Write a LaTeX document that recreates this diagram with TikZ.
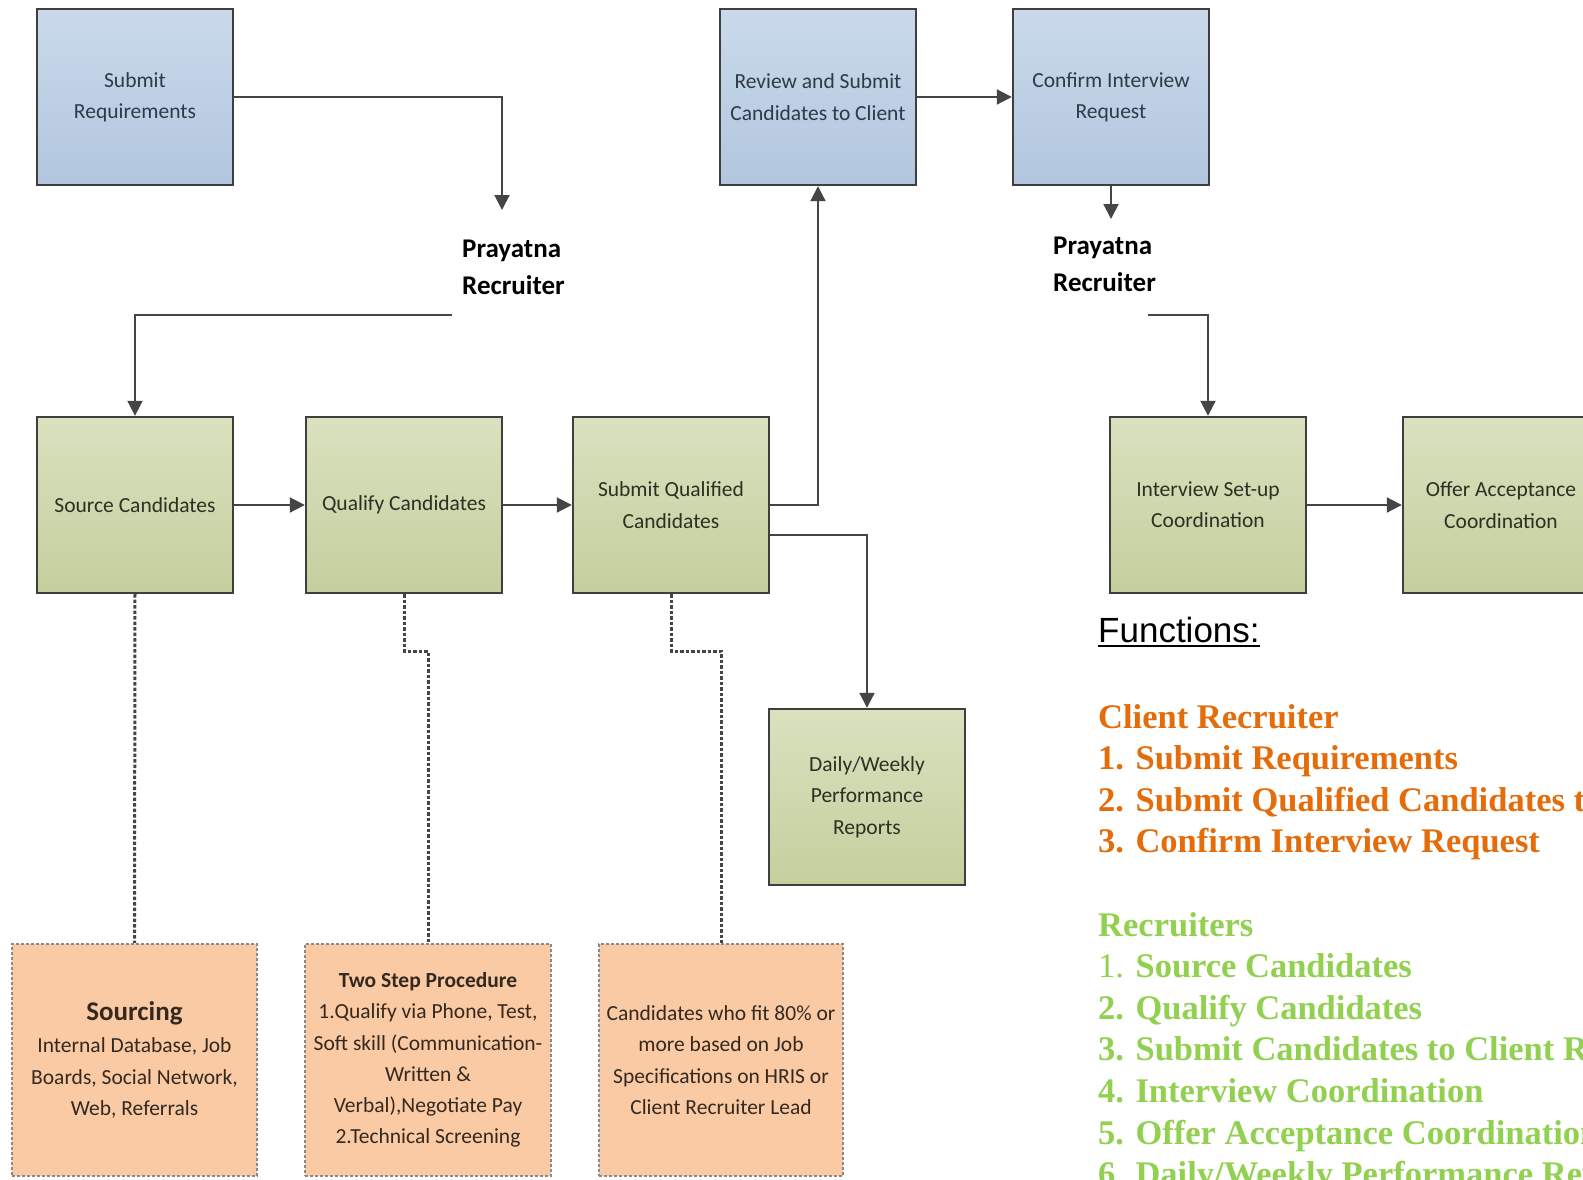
\documentclass[tikz,border=0pt]{standalone}
\usepackage{fontspec}
\setmainfont{Carlito}
\newfontfamily\tnrfont{Liberation Serif}
\newfontfamily\arialfont{Liberation Sans}
\usetikzlibrary{arrows.meta}
\definecolor{bluetop}{HTML}{CADAEB}
\definecolor{bluebot}{HTML}{B2C6DE}
\definecolor{greentop}{HTML}{DAE1BF}
\definecolor{greenbot}{HTML}{C4CF9D}
\definecolor{peach}{HTML}{F9CAA4}
\definecolor{boxline}{HTML}{3F3F3F}
\definecolor{linecol}{HTML}{454545}
\definecolor{notebord}{HTML}{8A8A8A}
\definecolor{bluetext}{HTML}{2E3A46}
\definecolor{greentext}{HTML}{2B3025}
\definecolor{notetext}{HTML}{35291F}
\definecolor{fnorange}{HTML}{E46C0A}
\definecolor{fngreen}{HTML}{92D050}
\newcommand\myul[1]{\setbox0=\hbox{#1}\rlap{\rule[-5pt]{\wd0}{2.5pt}}\box0}
\begin{document}
\begin{tikzpicture}[x=1pt,y=-1pt,
  box/.style={draw=boxline, line width=2.4pt, minimum width=196pt, minimum height=176pt,
    inner sep=4pt, align=center, font=\fontsize{21.5}{31.3}\selectfont},
  bluebox/.style={box, top color=bluetop, bottom color=bluebot, text=bluetext},
  greenbox/.style={box, top color=greentop, bottom color=greenbot, text=greentext},
  notebox/.style={draw=notebord, line width=1.6pt, dash pattern=on 3pt off 2pt, fill=peach,
    minimum width=244pt, minimum height=232pt, inner sep=4pt, align=center, text=notetext,
    font=\fontsize{21.5}{31.3}\selectfont},
  flow/.style={draw=linecol, line width=2pt, -{Triangle[length=15pt,width=15pt]}},
  dotline/.style={draw=linecol, line width=3pt, dash pattern=on 3.5pt off 2pt},
  plabel/.style={anchor=base west, inner sep=0pt, align=left,
    font=\bfseries\fontsize{27}{37.5}\selectfont},
  fnlist/.style={anchor=base west, inner sep=0pt, align=left,
    font=\tnrfont\bfseries\fontsize{34.5}{41.6}\selectfont},
]
\fill[white] (0,0) rectangle (1583,1179);
\useasboundingbox (0,0) rectangle (1583,1179);
\clip (0,0) rectangle (1583,1179);

% top row (client)
\node[bluebox] (sr) at (135,97) {Submit\\Requirements};
\node[bluebox] (rv) at (818,97) {Review and Submit\\Candidates to Client};
\node[bluebox] (ci) at (1111,97) {Confirm Interview\\Request};

% recruiter labels (anchored at the baseline of their last line)
\node[plabel] (p1) at (462,294.5) {Prayatna\\Recruiter};
\node[plabel] (p2) at (1053,291.5) {Prayatna\\Recruiter};
\coordinate (p1in) at (502,210);
\coordinate (p1out) at (452,315);
\coordinate (p2in) at (1111,219);
\coordinate (p2out) at (1148,315);

% middle row
\node[greenbox] (sc) at (135,505) {Source Candidates};
\node[greenbox] (qc) at (404,505) {Qualify Candidates};
\node[greenbox] (sq) at (671,505) {Submit Qualified\\Candidates};
\node[greenbox] (is) at (1208,505) {Interview Set-up\\Coordination};
\node[greenbox] (oa) at (1501,505) {Offer Acceptance\\Coordination};
\node[greenbox] (dw) at (867,797) {Daily/Weekly\\Performance\\Reports};

% notes
\node[notebox, minimum width=245pt] (n1) at (134.5,1060)
  {{\bfseries\fontsize{27}{34}\selectfont Sourcing}\\[1pt]Internal Database, Job\\Boards, Social Network,\\Web, Referrals};
\node[notebox, minimum width=246pt] (n2) at (428,1060)
  {{\bfseries Two Step Procedure}\\1.Qualify via Phone, Test,\\Soft skill (Communication-\\Written \&\\Verbal),Negotiate Pay\\2.Technical Screening};
\node[notebox] (n3) at (721,1060)
  {Candidates who fit 80\% or\\more based on Job\\Specifications on HRIS or\\Client Recruiter Lead};

% connectors
\draw[flow] (sr.east) -| (p1in);
\draw[flow] (p1out) -| (sc.north);
\draw[flow] (sc.east) -- (qc.west);
\draw[flow] (qc.east) -- (sq.west);
\draw[flow] (sq.east) -| (rv.south);
\draw[flow] ([yshift=-30pt]sq.east) -| (dw.north);
\draw[flow] (rv.east) -- (ci.west);
\draw[flow] (ci.south) -- (p2in);
\draw[flow] (p2out) -| (is.north);
\draw[flow] (is.east) -- (oa.west);

\draw[dotline] (sc.south) -- (n1.north);
\draw[dotline] (qc.south) -- (404,651) -| (n2.north);
\draw[dotline] (sq.south) -- (671,651) -| (n3.north);

% functions
\node[anchor=base west, inner sep=0pt, font=\arialfont\fontsize{35}{40}\selectfont] (fn) at (1098,642) {\myul{Functions:}};
\node[fnlist, text=fnorange] (cr) at (1098,852.8)
  {Client Recruiter\\1. Submit Requirements\\2. Submit Qualified Candidates to Client\\3. Confirm Interview Request};
\node[fnlist, text=fngreen] (rc) at (1098,1185.6)
  {Recruiters\\{\mdseries 1.} Source Candidates\\2. Qualify Candidates\\3. Submit Candidates to Client Recruiter\\4. Interview Coordination\\5. Offer Acceptance Coordination\\6. Daily/Weekly Performance Reports};
\end{tikzpicture}
\end{document}
